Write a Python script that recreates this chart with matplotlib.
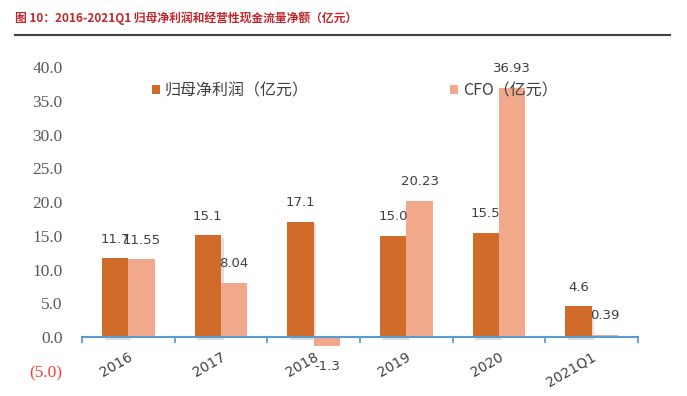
import matplotlib
matplotlib.use('Agg')
import matplotlib.pyplot as plt
import matplotlib.patheffects as pe
import numpy as np

plt.rcParams['font.family'] = ['Noto Sans CJK SC', 'DejaVu Sans']

# 数据
categories = ['2016', '2017', '2018', '2019', '2020', '2021Q1']
profit = [11.7, 15.1, 17.1, 15.0, 15.5, 4.6]
cfo = [11.55, 8.04, -1.3, 20.23, 36.93, 0.39]
profit_labels = ['11.7', '15.1', '17.1', '15.0', '15.5', '4.6']
cfo_labels = ['11.55', '8.04', '-1.3', '20.23', '36.93', '0.39']
yticks = [-5, 0, 5, 10, 15, 20, 25, 30, 35, 40]
ytick_labels = ['(5.0)', '0.0', '5.0', '10.0', '15.0', '20.0', '25.0', '30.0', '35.0', '40.0']

c_profit = '#D06B2A'
c_cfo = '#F2A98B'
c_axis = '#5B9BD5'
c_text = '#404040'

fig = plt.figure(figsize=(6.87, 3.96), dpi=100)
ax = fig.add_axes([82 / 687, 1 - 371 / 396, 556 / 687, 304 / 396])

x = np.arange(len(categories))
w = 0.285
shadow = [pe.SimplePatchShadow(offset=(2, -2), shadow_rgbFace='#808080', alpha=0.25), pe.Normal()]
b1 = ax.bar(x - w / 2, profit, w, color=c_profit, label='归母净利润（亿元）', zorder=3)
b2 = ax.bar(x + w / 2, cfo, w, color=c_cfo, label='CFO（亿元）', zorder=3)

# 数据标签
for xi, v, s in zip(x, profit, profit_labels):
    ax.annotate(s, (xi - w / 2, v), xytext=(0, 9), textcoords='offset points',
                ha='center', va='bottom', fontsize=9.5, color=c_text,
                family='DejaVu Sans', zorder=5)
for xi, v, s in zip(x, cfo, cfo_labels):
    if v < 0:
        ax.annotate(s, (xi + w / 2, v), xytext=(0, -10), textcoords='offset points',
                    ha='center', va='top', fontsize=9.5, color=c_text,
                    family='DejaVu Sans', zorder=5)
    else:
        ax.annotate(s, (xi + w / 2, v), xytext=(0, 9), textcoords='offset points',
                    ha='center', va='bottom', fontsize=9.5, color=c_text,
                    family='DejaVu Sans', zorder=5)

ax.set_xlim(-0.5, len(categories) - 0.5)
ax.set_ylim(-5, 40)

for sp in ['left', 'right', 'top']:
    ax.spines[sp].set_visible(False)
ax.spines['bottom'].set_position(('data', 0))
ax.spines['bottom'].set_color(c_axis)
ax.spines['bottom'].set_linewidth(1.5)
ax.spines['bottom'].set_zorder(4)

ax.set_xticks(x)
ax.set_xticklabels(categories, rotation=30, ha='right', rotation_mode='anchor',
                   fontsize=10, color=c_text, family='DejaVu Sans')
ax.tick_params(axis='x', which='major', length=0, pad=9)
ax.set_xticks(np.arange(-0.5, len(categories)), minor=True)
ax.tick_params(axis='x', which='minor', length=4, width=1.3, color=c_axis, direction='out')

ax.set_yticks(yticks)
ax.set_yticklabels(ytick_labels, fontsize=12.5, family='Liberation Serif', color='#595959')
ax.tick_params(axis='y', length=0, pad=14)
ax.get_yticklabels()[0].set_color('#FF3B3B')

leg = ax.legend(handles=[b1, b2], ncol=2, frameon=False, loc='upper left',
                bbox_to_anchor=(0.126, 0.949), fontsize=11.5,
                handlelength=0.5, handleheight=0.5, handletextpad=0.3,
                columnspacing=8.85, borderaxespad=0, borderpad=0)
for t in leg.get_texts():
    t.set_color(c_text)
leg.set_zorder(6)

# 柱子阴影（图例不加）
for b in b1:
    b.set_path_effects(shadow)

# 标题
fig.text(15 / 687, 1 - 18 / 396, '图 10：2016-2021Q1 归母净利润和经营性现金流量净额（亿元）',
         fontsize=8.5, fontweight='bold', color='#C0262C', ha='left', va='center')
fig.add_artist(plt.Line2D([15 / 687, 670 / 687], [1 - 35 / 396, 1 - 35 / 396],
                          color='#404040', lw=1.5))

fig.savefig('out.png', dpi=100)
